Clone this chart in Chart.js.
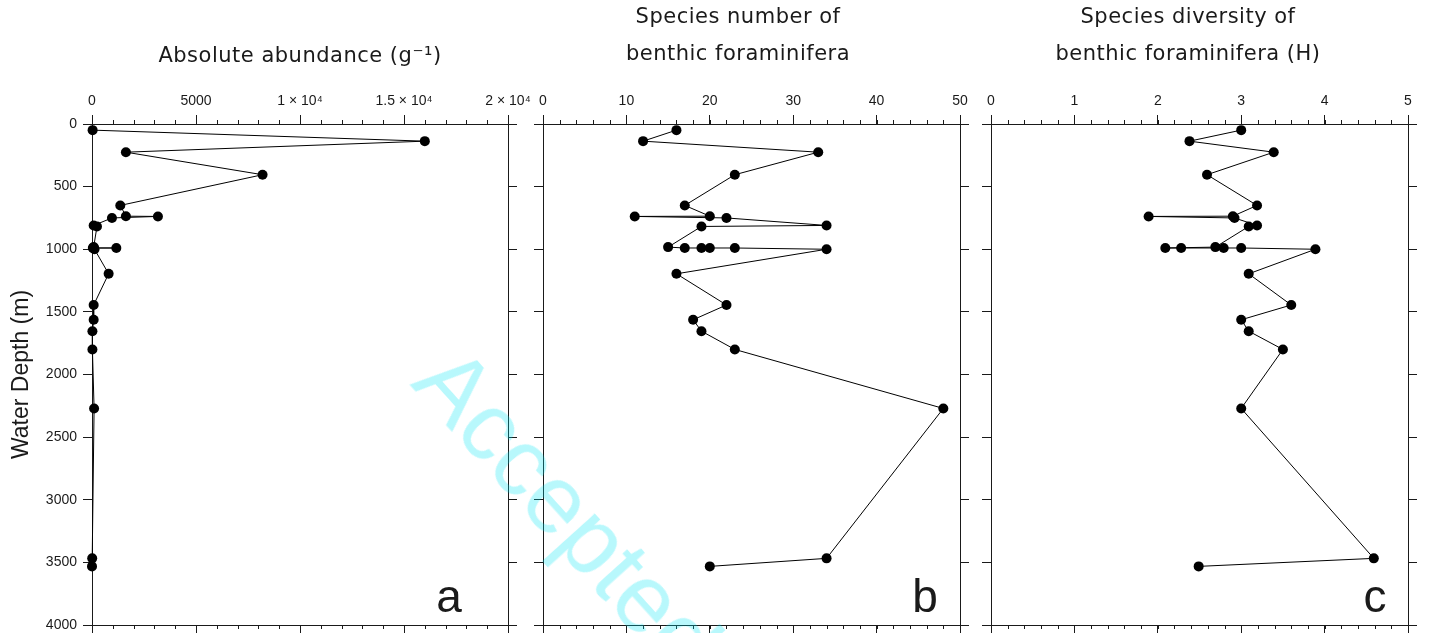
<!DOCTYPE html>
<html>
<head>
<meta charset="utf-8">
<script src="https://cdn.jsdelivr.net/npm/chart.js@4.4.0/dist/chart.umd.min.js"></script>
<style>
  body { margin: 0; background: #fff; width: 1429px; height: 633px; overflow: hidden; position: relative; }
  .panel { position: absolute; top: 0; height: 633px; }
  .panel canvas { display: block; }
  #stamp {
    position: absolute; left: 470px; top: 330px;
    font: 96px "Liberation Sans", Arial, sans-serif;
    color: rgba(0, 230, 245, 0.28);
    line-height: 1; white-space: nowrap;
    transform-origin: 0 0; transform: rotate(48deg);
    pointer-events: none;
  }
</style>
</head>
<body>
<div class="panel" style="left:0;width:540px"><canvas id="chartA" width="540" height="633"></canvas></div>
<div class="panel" style="left:530px;width:450px"><canvas id="chartB" width="450" height="633"></canvas></div>
<div class="panel" style="left:980px;width:449px"><canvas id="chartC" width="449" height="633"></canvas></div>
<div id="stamp">Accepted</div>
<script>
// samples, top to bottom (m)
var depth = [49, 137, 225, 405, 650, 736, 738, 750, 810, 818, 983, 990, 990, 990, 990, 1000, 1196, 1445, 1563, 1654, 1800, 2271, 3468, 3532];
var abundance = [30, 16000, 1630, 8200, 1360, 1630, 3170, 960, 80, 240, 80, 60, 40, 1170, 100, 120, 800, 80, 80, 20, 20, 100, 10, 0];
var speciesNumber = [16, 12, 33, 23, 17, 20, 11, 22, 34, 19, 15, 17, 19, 20, 23, 34, 16, 22, 18, 19, 23, 48, 34, 20];
var diversity = [3.0, 2.38, 3.39, 2.59, 3.19, 2.90, 1.89, 2.92, 3.19, 3.09, 2.69, 2.09, 2.28, 2.79, 3.0, 3.89, 3.09, 3.60, 3.0, 3.09, 3.50, 3.0, 4.59, 2.49];

var depthTicks = [0, 500, 1000, 1500, 2000, 2500, 3000, 3500, 4000];
var abundanceTicks = [0, 5000, 10000, 15000, 20000];
var abundanceLabels = ['0', '5000', '1 × 10⁴', '1.5 × 10⁴', '2 × 10⁴'];
var speciesTicks = [0, 10, 20, 30, 40, 50];
var diversityTicks = [0, 1, 2, 3, 4, 5];

var INK = '#1a1a1a';
var SANS = '"Liberation Sans", Arial, sans-serif';
var TITLE_FONT = '21px "DejaVu Sans", sans-serif';
Chart.defaults.font.family = SANS;

// minor ticks, panel titles and the panel letter
var panelDeco = {
  id: 'panelDeco',
  afterDraw: function(chart, args, opts) {
    var ctx = chart.ctx;
    var area = chart.chartArea;
    var xs = chart.scales.x;
    ctx.save();
    ctx.strokeStyle = INK;
    ctx.lineWidth = 1;
    ctx.beginPath();
    var n = Math.round(xs.max / opts.minorStep);
    for (var i = 1; i < n; i++) {
      var px = Math.round(xs.getPixelForValue(i * opts.minorStep)) + 0.5;
      ctx.moveTo(px, area.top);
      ctx.lineTo(px, area.top - 4);
      ctx.moveTo(px, area.bottom);
      ctx.lineTo(px, area.bottom + 4);
    }
    ctx.stroke();

    ctx.fillStyle = INK;
    ctx.textAlign = 'center';
    ctx.textBaseline = 'middle';
    ctx.font = TITLE_FONT;
    ctx.letterSpacing = '0.5px';
    opts.title.forEach(function(line, k) {
      ctx.fillText(line, opts.titleX, opts.titleY[k]);
    });
    ctx.letterSpacing = '0px';

    ctx.font = '46px ' + SANS;
    ctx.textBaseline = 'alphabetic';
    ctx.fillText(opts.letter, opts.letterX, 612);
    ctx.restore();
  }
};

function noPadding(scale) {
  scale.paddingLeft = 0;
  scale.paddingRight = 0;
  scale.paddingTop = 0;
  scale.paddingBottom = 0;
}

function makePanel(id, values, xMax, majors, labels, deco, sizes) {
  var points = depth.map(function(d, i) {
    return { x: values[i], y: d };
  });
  var tickGrid = { drawOnChartArea: false, tickLength: 9, tickColor: INK, tickWidth: 1 };
  var border = { color: INK, width: 1 };
  var useMajors = function(scale) {
    scale.ticks = majors.map(function(v) { return { value: v }; });
  };
  var useDepths = function(scale) {
    scale.ticks = depthTicks.map(function(v) { return { value: v }; });
  };

  return new Chart(document.getElementById(id), {
    type: 'scatter',
    data: {
      datasets: [{
        data: points,
        showLine: true,
        borderColor: '#000',
        borderWidth: 1,
        pointRadius: 5,
        pointBackgroundColor: '#000',
        pointBorderWidth: 0,
        clip: false
      }]
    },
    options: {
      responsive: false,
      animation: false,
      layout: { padding: 0 },
      plugins: { legend: { display: false }, tooltip: { enabled: false }, panelDeco: deco },
      scales: {
        x: {
          type: 'linear', position: 'top', min: 0, max: xMax,
          afterBuildTicks: useMajors,
          ticks: {
            color: INK, font: { size: 14 }, padding: 5, maxRotation: 0, autoSkip: false,
            callback: function(v) { return labels[majors.indexOf(v)]; }
          },
          grid: tickGrid, border: border,
          afterFit: function(s) { s.height = 124; noPadding(s); }
        },
        x2: {
          type: 'linear', position: 'bottom', min: 0, max: xMax,
          afterBuildTicks: useMajors,
          ticks: { display: false },
          grid: { drawOnChartArea: false, tickLength: 8, tickColor: INK },
          border: border,
          afterFit: function(s) { s.height = 8; noPadding(s); }
        },
        y: {
          type: 'linear', position: 'left', reverse: true, min: 0, max: 4000,
          afterBuildTicks: useDepths,
          ticks: {
            display: sizes.yLabels, color: INK, font: { size: 14 }, padding: 6,
            callback: function(v) { return String(v); }
          },
          grid: tickGrid, border: border,
          title: {
            display: sizes.yLabels, text: 'Water Depth (m)', color: INK,
            font: { size: 23 }, padding: { top: 8, bottom: 0 }
          },
          afterFit: function(s) { s.width = sizes.left; noPadding(s); }
        },
        y2: {
          type: 'linear', position: 'right', reverse: true, min: 0, max: 4000,
          afterBuildTicks: useDepths,
          ticks: { display: false },
          grid: tickGrid, border: border,
          afterFit: function(s) { s.width = sizes.right; noPadding(s); }
        }
      }
    },
    plugins: [panelDeco]
  });
}

makePanel('chartA', abundance, 20000, abundanceTicks, abundanceLabels,
  { minorStep: 1000, title: ['Absolute abundance (g⁻¹)'], titleX: 300, titleY: [57], letter: 'a', letterX: 449 },
  { left: 92, right: 32, yLabels: true });

makePanel('chartB', speciesNumber, 50, speciesTicks, speciesTicks.map(String),
  { minorStep: 2, title: ['Species number of', 'benthic foraminifera'], titleX: 208, titleY: [18, 55], letter: 'b', letterX: 395 },
  { left: 13, right: 20, yLabels: false });

makePanel('chartC', diversity, 5, diversityTicks, diversityTicks.map(String),
  { minorStep: 0.2, title: ['Species diversity of', 'benthic foraminifera (H)'], titleX: 208, titleY: [18, 55], letter: 'c', letterX: 395 },
  { left: 11, right: 21, yLabels: false });
</script>
</body>
</html>
